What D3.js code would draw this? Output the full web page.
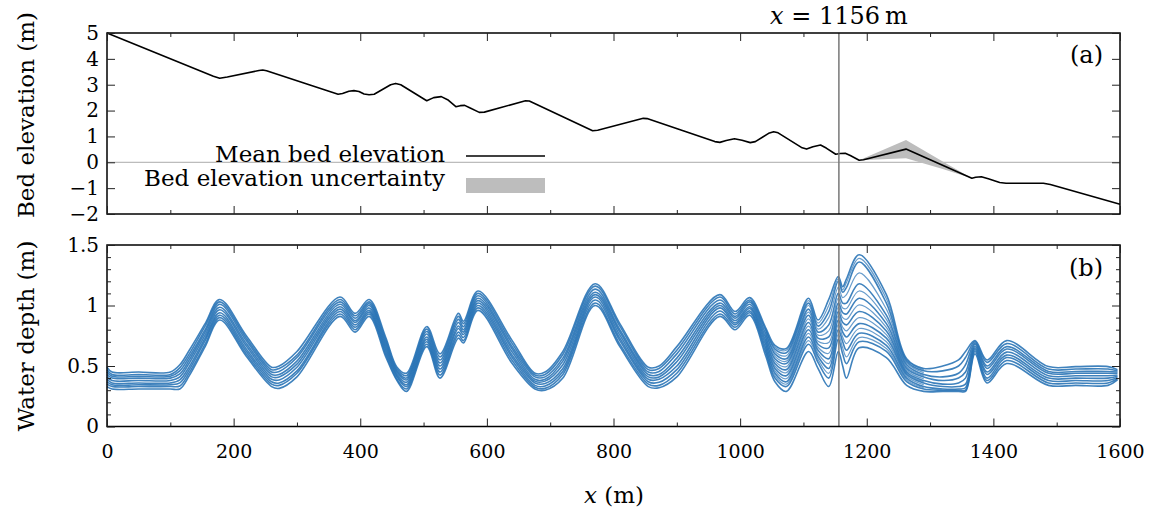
<!DOCTYPE html>
<html>
<head>
<meta charset="utf-8">
<script src="https://cdn.jsdelivr.net/npm/d3@7"></script>
<style>
  body { margin: 0; background: #fff; }
  svg text { font-family: "DejaVu Serif", serif; fill: #000; }
</style>
</head>
<body>
<div id="figure"></div>
<script>
// bed profile (panel a)
const bedX = [0, 168, 178, 190, 240, 246, 252, 365, 372, 382, 390, 398, 406, 414, 422, 448, 456, 464, 505, 516, 528, 538, 551, 558, 565, 572, 588, 596, 661, 667, 767, 775, 847, 853, 960, 968, 978, 991, 1003, 1016, 1024, 1045, 1053, 1060, 1098, 1105, 1115, 1127, 1136, 1151, 1158, 1166, 1174, 1188, 1195, 1262, 1366, 1372, 1381, 1392, 1410, 1420, 1479, 1490, 1600];
const bedMean = [5.0, 3.33, 3.25, 3.30, 3.55, 3.57, 3.54, 2.63, 2.66, 2.75, 2.77, 2.74, 2.64, 2.61, 2.63, 3.0, 3.05, 3.0, 2.38, 2.50, 2.54, 2.42, 2.15, 2.19, 2.20, 2.12, 1.93, 1.94, 2.38, 2.37, 1.22, 1.24, 1.70, 1.69, 0.80, 0.77, 0.84, 0.91, 0.85, 0.76, 0.80, 1.12, 1.18, 1.14, 0.56, 0.51, 0.60, 0.67, 0.55, 0.31, 0.34, 0.35, 0.26, 0.08, 0.10, 0.51, -0.62, -0.58, -0.56, -0.64, -0.78, -0.81, -0.81, -0.86, -1.62];
const bandX = [1188, 1262, 1320, 1366];
const bandLow = [0.08, 0.16, -0.26, -0.62];
const bandHigh = [0.08, 0.86, 0.03, -0.62];

// water depth runs (panel b)
const depthX = [0, 8, 50, 100, 115, 130, 155, 178, 220, 260, 272, 300, 368, 392, 414, 440, 458, 473, 505, 526, 555, 563, 586, 640, 676, 692, 720, 771, 810, 855, 872, 900, 968, 992, 1015, 1040, 1055, 1073, 1108, 1123, 1140, 1155, 1162, 1168, 1188, 1231, 1263, 1290, 1320, 1345, 1356, 1371, 1390, 1421, 1487, 1530, 1581, 1596];
const run0 = [.33,.31,.31,.31,.31,.42,.66,.88,.58,.33,.315, .41,.91,.78,.91,.58,.38,.29,.66,.40,.73, .69,.96,.52,.31,.30,.40,1.0,.66,.33,.32, .41,.91,.80,.92,.59,.37,.29,.62,.48,.33, .62,.50,.40,.65,.57,.34,.29,.29,.29,.29, .60,.36,.52,.34,.34,.34,.385];
const run1 = [.35,.33,.33,.33,.335,.445,.68,.90,.60,.35,.34, .44,.93,.80,.93,.60,.39,.31,.68,.425,.755, .71,.98,.545,.325,.315,.43,1.02,.68,.35,.34, .44,.93,.82,.94,.62,.40,.33,.68,.53,.40, .72,.60,.52,.70,.62,.37,.31,.30,.30,.30, .62,.38,.545,.36,.36,.36,.395];
const run2 = [.37,.345,.345,.345,.36,.47,.71,.92,.62,.37,.36, .46,.95,.82,.945,.62,.41,.33,.70,.45,.78, .735,1.0,.57,.34,.335,.455,1.045,.71,.37,.365, .47,.955,.84,.955,.65,.44,.37,.74,.58,.48, .80,.70,.63,.77,.67,.40,.33,.31,.31,.32, .635,.40,.57,.38,.38,.38,.405];
const run3 = [.39,.36,.36,.36,.385,.495,.73,.94,.64,.39,.385, .49,.97,.84,.96,.64,.42,.345,.72,.475,.81, .76,1.02,.59,.36,.355,.48,1.07,.73,.39,.39, .50,.98,.855,.975,.68,.48,.42,.80,.63,.56, .88,.78,.74,.85,.73,.43,.36,.33,.33,.35, .65,.43,.59,.40,.40,.40,.415];
const run4 = [.41,.38,.38,.38,.41,.525,.755,.965,.665,.41,.41, .515,.99,.86,.98,.66,.435,.365,.74,.50,.83, .78,1.04,.615,.375,.375,.51,1.09,.755,.41,.41, .535,1.0,.875,.99,.71,.52,.47,.86,.68,.65, .95,.86,.84,.95,.79,.45,.38,.35,.36,.40, .665,.45,.615,.42,.42,.42,.425];
const run5 = [.43,.40,.40,.40,.435,.55,.78,.985,.685,.43,.43, .54,1.01,.875,1.0,.68,.45,.385,.765,.525,.86, .80,1.06,.64,.39,.39,.54,1.11,.78,.43,.43, .565,1.02,.895,1.01,.74,.56,.52,.92,.73,.74, 1.02,.94,.93,1.06,.85,.48,.41,.38,.40,.45, .68,.48,.64,.44,.44,.44,.44];
const run6 = [.45,.415,.415,.415,.46,.575,.80,1.01,.71,.45,.455, .57,1.03,.895,1.015,.70,.46,.40,.785,.55,.885, .825,1.08,.66,.41,.41,.565,1.135,.80,.45,.455, .60,1.045,.91,1.03,.77,.60,.56,.97,.78,.84, 1.10,1.02,1.02,1.18,.92,.51,.43,.41,.44,.51, .69,.50,.66,.455,.455,.455,.45];
const run7 = [.47,.43,.43,.43,.485,.60,.83,1.03,.73,.47,.48, .59,1.05,.915,1.03,.72,.475,.42,.805,.575,.91, .85,1.10,.685,.425,.43,.595,1.16,.83,.47,.48, .63,1.07,.93,1.045,.80,.64,.61,1.02,.83,.95, 1.20,1.11,1.15,1.36,1.02,.54,.46,.46,.50,.57, .70,.53,.685,.475,.475,.475,.46];
const run8 = [.49,.45,.45,.45,.51,.63,.85,1.05,.75,.49,.50, .62,1.07,.935,1.05,.74,.49,.44,.825,.60,.935, .87,1.12,.71,.44,.45,.62,1.18,.85,.49,.50, .66,1.09,.95,1.065,.82,.67,.645,1.06,.88,1.05, 1.24,1.155,1.22,1.42,1.09,.56,.48,.50,.55,.62, .71,.55,.71,.495,.495,.495,.47];
const depthRuns = [run0, run1, run2, run3, run4, run5, run6, run7, run8];

// extra runs that only separate from the bundle near the uncertain reach
const fanX = [1040, 1055, 1073, 1108, 1123, 1140, 1155, 1162, 1168, 1188, 1231, 1263, 1290];
const fanA = [.81, .655, .63, 1.04, .855, 1.00, 1.22, 1.13, 1.19, 1.39, 1.055, .55, .47];
const fanB = [.785, .62, .585, 1.0, .805, .90, 1.15, 1.065, 1.09, 1.27, .97, .525, .445];
const fanC = [.755, .58, .54, .945, .755, .79, 1.06, .98, .975, 1.12, .885, .495, .42];
const fanD = [.725, .54, .495, .89, .705, .695, .985, .90, .885, 1.005, .82, .465, .395];
const fanE = [.695, .50, .445, .83, .655, .605, .915, .82, .79, .90, .76, .44, .37];
const fanF = [.665, .46, .395, .77, .605, .52, .84, .74, .685, .81, .70, .415, .345];
const fanG = [.635, .42, .35, .71, .555, .44, .76, .65, .575, .735, .645, .385, .32];
const fanRuns = [fanA, fanB, fanC, fanD, fanE, fanF, fanG];

const xMajor = [0, 200, 400, 600, 800, 1000, 1200, 1400, 1600];
const xMinor = [100, 300, 500, 700, 900, 1100, 1300, 1500];
const bedTicks = [-2, -1, 0, 1, 2, 3, 4, 5];
const depthMajor = [0, 0.5, 1, 1.5];
const depthMinor = [0.1, 0.2, 0.3, 0.4, 0.6, 0.7, 0.8, 0.9, 1.1, 1.2, 1.3, 1.4];
const markerX = 1156;

class BedFigure {
    constructor() {
        this.svg = d3.select("#figure").append("svg")
            .attr("width", 1156)
            .attr("height", 516);

        this.x = d3.scaleLinear().domain([0, 1600]).range([107, 1120]);
        this.yBed = d3.scaleLinear().domain([-2, 5]).range([214, 33]);
        this.yDepth = d3.scaleLinear().domain([0, 1.5]).range([426.5, 245]);
        this.blue = "#2a74b6";
    }

    initialize() {
        this.renderBed();
        this.renderDepth();
        this.renderLabels();
    }

    frameTicks(y, top, bottom, majorY, minorY, showX) {
        const svg = this.svg;
        const clean = g => { g.select(".domain").remove(); g.selectAll("line").attr("stroke", "#222"); };

        svg.append("g").attr("transform", `translate(0,${bottom})`)
            .call(d3.axisBottom(this.x).tickValues(xMajor).tickSize(-8).tickPadding(18)
                .tickFormat(showX ? d3.format("d") : ""))
            .call(clean)
            .selectAll("text").style("font-size", "19px");
        svg.append("g").attr("transform", `translate(0,${bottom})`)
            .call(d3.axisBottom(this.x).tickValues(xMinor).tickSize(-4).tickFormat(""))
            .call(clean);
        svg.append("g").attr("transform", `translate(0,${top})`)
            .call(d3.axisTop(this.x).tickValues(xMajor).tickSize(-8).tickFormat(""))
            .call(clean);
        svg.append("g").attr("transform", `translate(0,${top})`)
            .call(d3.axisTop(this.x).tickValues(xMinor).tickSize(-4).tickFormat(""))
            .call(clean);

        svg.append("g").attr("transform", `translate(107,0)`)
            .call(d3.axisLeft(y).tickValues(majorY).tickSize(-8).tickPadding(8)
                .tickFormat(d => d < 0 ? "\u2212" + Math.abs(d) : d))
            .call(clean)
            .selectAll("text").style("font-size", "20px");
        svg.append("g").attr("transform", `translate(1120,0)`)
            .call(d3.axisRight(y).tickValues(majorY).tickSize(-8).tickFormat(""))
            .call(clean);
        if (minorY) {
            svg.append("g").attr("transform", `translate(107,0)`)
                .call(d3.axisLeft(y).tickValues(minorY).tickSize(-4).tickFormat(""))
                .call(clean);
            svg.append("g").attr("transform", `translate(1120,0)`)
                .call(d3.axisRight(y).tickValues(minorY).tickSize(-4).tickFormat(""))
                .call(clean);
        }
    }

    renderBed() {
        const x = this.x, y = this.yBed;
        const g = this.svg.append("g");

        g.append("line")
            .attr("x1", x(0)).attr("x2", x(1600))
            .attr("y1", y(0)).attr("y2", y(0))
            .attr("stroke", "#aaa").attr("stroke-width", 1);

        const band = d3.area()
            .x((d, i) => x(bandX[i]))
            .y0((d, i) => y(bandLow[i]))
            .y1((d, i) => y(bandHigh[i]));
        g.append("path").datum(bandX)
            .attr("d", band)
            .attr("fill", "#bdbdbd");

        const line = d3.line()
            .x((d, i) => x(bedX[i]))
            .y(d => y(d));
        g.append("path").datum(bedMean)
            .attr("d", line)
            .attr("fill", "none")
            .attr("stroke", "#000")
            .attr("stroke-width", 1.6)
            .attr("stroke-linejoin", "round");

        g.append("line")
            .attr("x1", x(markerX)).attr("x2", x(markerX))
            .attr("y1", y(5)).attr("y2", y(-2))
            .attr("stroke", "#777").attr("stroke-width", 1.5);

        this.frameTicks(y, 33, 214, bedTicks, null, false);

        g.append("rect")
            .attr("x", 107).attr("y", 33)
            .attr("width", 1013).attr("height", 181)
            .attr("fill", "none").attr("stroke", "#000").attr("stroke-width", 1.5);

        // legend
        const legend = this.svg.append("g").attr("class", "legend");
        legend.append("text").attr("x", 445).attr("y", 162)
            .attr("text-anchor", "end").style("font-size", "23px")
            .text("Mean bed elevation");
        legend.append("line")
            .attr("x1", 466).attr("x2", 545).attr("y1", 156).attr("y2", 156)
            .attr("stroke", "#000").attr("stroke-width", 1.6);
        legend.append("text").attr("x", 445).attr("y", 186)
            .attr("text-anchor", "end").style("font-size", "23px")
            .text("Bed elevation uncertainty");
        legend.append("rect")
            .attr("x", 466).attr("y", 178).attr("width", 79).attr("height", 15)
            .attr("fill", "#bdbdbd");

        this.svg.append("text").attr("x", 1103).attr("y", 63)
            .attr("text-anchor", "end").style("font-size", "24px").text("(a)");
    }

    renderDepth() {
        const x = this.x, y = this.yDepth;
        const g = this.svg.append("g");

        const line = d3.line()
            .x((d, i) => x(depthX[i]))
            .y(d => y(d))
            .curve(d3.curveCatmullRom.alpha(0.5));
        const fanLine = d3.line()
            .x((d, i) => x(fanX[i]))
            .y(d => y(d))
            .curve(d3.curveCatmullRom.alpha(0.5));

        g.selectAll("path.fan")
            .data(fanRuns)
            .join("path")
            .attr("class", "fan")
            .attr("d", fanLine)
            .attr("fill", "none")
            .attr("stroke", this.blue)
            .attr("stroke-opacity", 0.7)
            .attr("stroke-width", 1.2);

        g.selectAll("path.run")
            .data(depthRuns)
            .join("path")
            .attr("class", "run")
            .attr("d", line)
            .attr("fill", "none")
            .attr("stroke", this.blue)
            .attr("stroke-opacity", 0.9)
            .attr("stroke-width", 1.6);

        g.append("line")
            .attr("x1", x(markerX)).attr("x2", x(markerX))
            .attr("y1", y(1.5)).attr("y2", y(0))
            .attr("stroke", "#777").attr("stroke-width", 1.5);

        this.frameTicks(y, 245, 426.5, depthMajor, depthMinor, true);

        g.append("rect")
            .attr("x", 107).attr("y", 245)
            .attr("width", 1013).attr("height", 181.5)
            .attr("fill", "none").attr("stroke", "#000").attr("stroke-width", 1.5);

        this.svg.append("text").attr("x", 1103).attr("y", 276)
            .attr("text-anchor", "end").style("font-size", "24px").text("(b)");
    }

    renderLabels() {
        const t = this.svg.append("text")
            .attr("x", this.x(markerX)).attr("y", 24)
            .attr("text-anchor", "middle").style("font-size", "24px");
        t.append("tspan").style("font-style", "italic").text("x");
        t.append("tspan").text(" = 1156\u2009m");

        const xl = this.svg.append("text")
            .attr("x", 614).attr("y", 503)
            .attr("text-anchor", "middle").style("font-size", "23px");
        xl.append("tspan").style("font-style", "italic").text("x");
        xl.append("tspan").text(" (m)");

        this.svg.append("text")
            .attr("transform", "translate(34,115) rotate(-90)")
            .attr("text-anchor", "middle").style("font-size", "23px")
            .text("Bed elevation (m)");
        this.svg.append("text")
            .attr("transform", "translate(34,336) rotate(-90)")
            .attr("text-anchor", "middle").style("font-size", "23px")
            .text("Water depth (m)");
    }
}

const fig = new BedFigure();
fig.initialize();
</script>
</body>
</html>
